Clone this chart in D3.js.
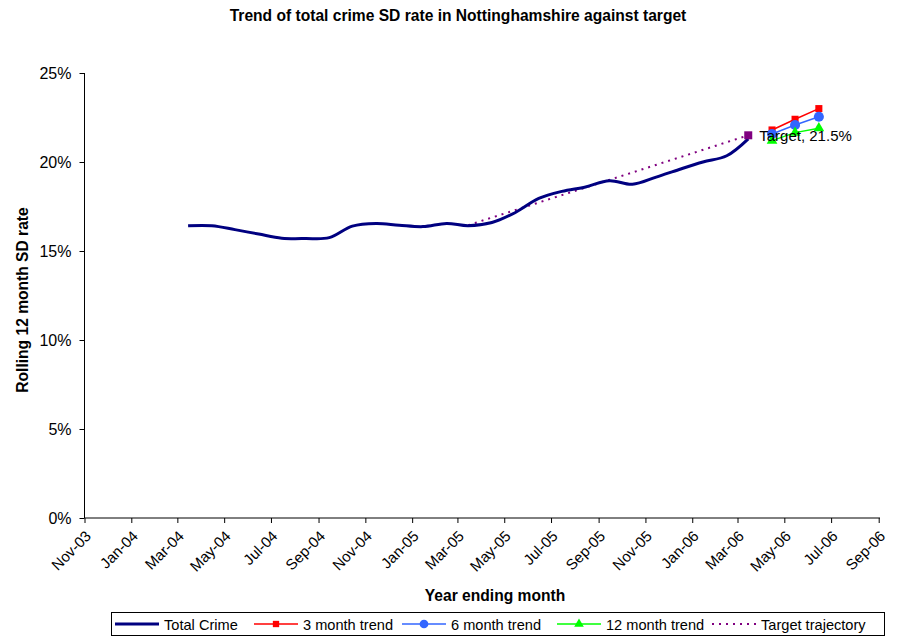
<!DOCTYPE html>
<html>
<head>
<meta charset="utf-8">
<script src="https://cdn.jsdelivr.net/npm/d3@7"></script>
<style>
  body { margin: 0; background: #fff; }
  svg { font-family: "Liberation Sans", Arial, sans-serif; }
</style>
</head>
<body>
<script>
// Year ending month for the total crime line (mid-month points)
var crimeMonths = ["2004-03","2004-04","2004-05","2004-06","2004-07","2004-08","2004-09",
  "2004-10","2004-11","2004-12","2005-01","2005-02","2005-03","2005-04","2005-05",
  "2005-06","2005-07","2005-08","2005-09","2005-10","2005-11","2005-12","2006-01",
  "2006-02","2006-03"];
var crimeRate = [16.42, 16.42, 16.2, 15.95, 15.72, 15.7, 15.75, 16.4, 16.55, 16.45,
  16.37, 16.55, 16.42, 16.6, 17.15, 17.95, 18.35, 18.6, 18.95, 18.75, 19.15, 19.58,
  20.0, 20.35, 21.3];

// Projections
var trendMonths = ["2006-04", "2006-05", "2006-06"];
var trend3 = [21.8, 22.4, 23.0];
var trend6 = [21.57, 22.08, 22.54];
var trend12 = [21.2, 21.65, 21.9];

// Target trajectory
var targetMonths = ["2005-03", "2006-03"];
var targetRate = [16.45, 21.5];

var xTickLabels = ["Nov-03","Jan-04","Mar-04","May-04","Jul-04","Sep-04","Nov-04","Jan-05",
  "Mar-05","May-05","Jul-05","Sep-05","Nov-05","Jan-06","Mar-06","May-06","Jul-06","Sep-06"];
var yTicks = [0, 5, 10, 15, 20, 25];

var W = 900, H = 636;

var parseMonth = d3.timeParse("%Y-%m");
var parseTick = d3.timeParse("%b-%y");
function mid(s) { var d = parseMonth(s); d.setDate(15); return d; }

var svg = d3.select("body").append("svg")
  .attr("width", W).attr("height", H);

var x = d3.scaleTime()
  .domain([parseTick("Nov-03"), parseTick("Sep-06")])
  .range([84.5, 878.7]);
var y = d3.scaleLinear().domain([0, 25]).range([518, 73]);

// Title
svg.append("text")
  .attr("x", 458).attr("y", 21)
  .attr("text-anchor", "middle")
  .style("font-size", "15.6px").style("font-weight", "bold")
  .text("Trend of total crime SD rate in Nottinghamshire against target");

// Y axis
var yAxis = d3.axisLeft(y).tickValues(yTicks)
  .tickFormat(function (d) { return d + "%"; })
  .tickSize(5).tickPadding(8);
var gy = svg.append("g").attr("transform", "translate(84.5,0)").call(yAxis);
gy.selectAll("text").style("font-size", "16px").style("font-family", "Liberation Sans, Arial");
gy.selectAll("path,line").attr("stroke", "#000");
gy.select(".domain").attr("d", "M0,73V518");

// X axis
var xAxis = d3.axisBottom(x)
  .tickValues(xTickLabels.map(function (s) { return parseTick(s); }))
  .tickFormat(d3.timeFormat("%b-%y"))
  .tickSize(5).tickSizeOuter(0);
var gx = svg.append("g").attr("transform", "translate(0,518)").call(xAxis);
gx.select(".domain").attr("d", "M84.5,0H880");
gx.selectAll("path,line").attr("stroke", "#000");
gx.selectAll("text")
  .style("font-size", "15px").style("font-family", "Liberation Sans, Arial")
  .attr("text-anchor", "end")
  .attr("dy", null).attr("y", 0)
  .attr("transform", "translate(7,19) rotate(-45)");

// Axis titles
svg.append("text")
  .attr("x", 495).attr("y", 601)
  .attr("text-anchor", "middle")
  .style("font-size", "15.6px").style("font-weight", "bold")
  .text("Year ending month");
svg.append("text")
  .attr("transform", "translate(28,300) rotate(-90)")
  .attr("text-anchor", "middle")
  .style("font-size", "15.6px").style("font-weight", "bold")
  .text("Rolling 12 month SD rate");

function pts(months, vals) {
  return months.map(function (m, i) { return { date: mid(m), v: vals[i] }; });
}

var line = d3.line()
  .x(function (d) { return x(d.date); })
  .y(function (d) { return y(d.v); });

// Target trajectory
var targetData = pts(targetMonths, targetRate);
svg.append("path").datum(targetData)
  .attr("fill", "none").attr("stroke", "#800080")
  .attr("stroke-width", 2).attr("stroke-dasharray", "2,5")
  .attr("d", line);

// Total crime
svg.append("path").datum(pts(crimeMonths, crimeRate))
  .attr("fill", "none").attr("stroke", "#000080").attr("stroke-width", 3)
  .attr("stroke-linejoin", "round")
  .attr("d", line.curve(d3.curveCatmullRom.alpha(0.5)));
line.curve(d3.curveLinear);

// Trends
var trends = [
  { vals: trend3, color: "#ff0000", shape: d3.symbolSquare, size: 50 },
  { vals: trend6, color: "#3366ff", shape: d3.symbolCircle, size: 80 },
  { vals: trend12, color: "#00ff00", shape: d3.symbolTriangle, size: 50 }
];
trends.forEach(function (t) {
  var data = pts(trendMonths, t.vals);
  svg.append("path").datum(data)
    .attr("fill", "none").attr("stroke", t.color).attr("stroke-width", 1.5)
    .attr("d", line);
  svg.selectAll(null).data(data).enter().append("path")
    .attr("transform", function (d) { return "translate(" + x(d.date) + "," + y(d.v) + ")"; })
    .attr("d", d3.symbol().type(t.shape).size(t.size))
    .attr("fill", t.color);
});

// Target marker and label
var tEnd = targetData[targetData.length - 1];
svg.append("rect")
  .attr("x", x(tEnd.date) - 4).attr("y", y(tEnd.v) - 4)
  .attr("width", 8).attr("height", 8).attr("fill", "#800080");
svg.append("text")
  .attr("x", x(tEnd.date) + 11).attr("y", y(tEnd.v) + 6)
  .style("font-size", "15px")
  .text("Target, " + tEnd.v + "%");

// Legend
var legend = svg.append("g");
legend.append("rect")
  .attr("x", 111.5).attr("y", 612.5).attr("width", 773).attr("height", 23)
  .attr("fill", "#fff").attr("stroke", "#000");
var items = [
  { label: "Total Crime", color: "#000080", w: 3, x: 115 },
  { label: "3 month trend", color: "#ff0000", w: 1.5, x: 254, shape: d3.symbolSquare, size: 40 },
  { label: "6 month trend", color: "#3366ff", w: 1.5, x: 402, shape: d3.symbolCircle, size: 60 },
  { label: "12 month trend", color: "#00ff00", w: 1.5, x: 557, shape: d3.symbolTriangle, size: 40 },
  { label: "Target trajectory", color: "#800080", w: 2, x: 712, dash: "2,5" }
];
items.forEach(function (it) {
  var g = legend.append("g").attr("transform", "translate(" + it.x + ",624)");
  g.append("line").attr("x1", 0).attr("x2", 44)
    .attr("stroke", it.color).attr("stroke-width", it.w)
    .attr("stroke-dasharray", it.dash || null);
  if (it.shape) {
    g.append("path").attr("transform", "translate(22,0)")
      .attr("d", d3.symbol().type(it.shape).size(it.size)).attr("fill", it.color);
  }
  g.append("text").attr("x", 49).attr("y", 5.5)
    .style("font-size", "14.6px").text(it.label);
});
</script>
</body>
</html>
